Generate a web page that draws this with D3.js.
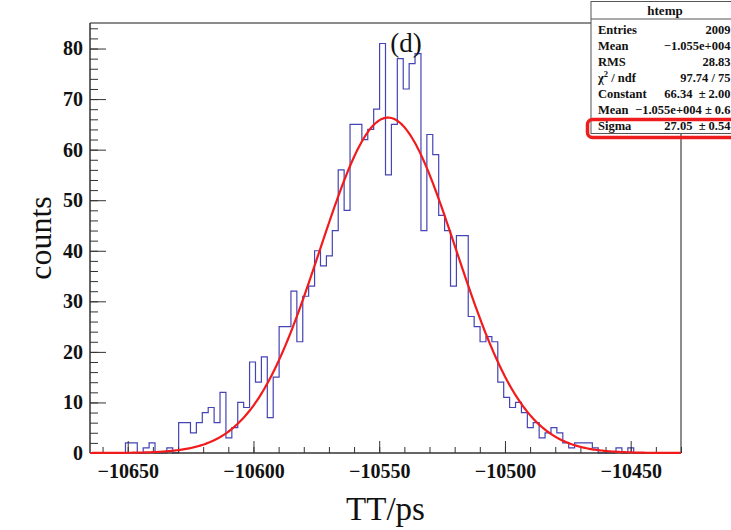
<!DOCTYPE html>
<html>
<head>
<meta charset="utf-8">
<script src="https://cdn.jsdelivr.net/npm/d3@7/dist/d3.min.js"></script>
<style>
  html, body { margin: 0; padding: 0; background: #fff; }
  svg { display: block; }
</style>
</head>
<body>
<svg id="chart" width="731" height="530"></svg>
<script>
// ---------------- data ----------------
const histRange = [-10665, -10430];   // histogram x range (100 bins)
const binCounts = [
  0,0,0,0,0,0,2,2,0,1,
  2,0,0,1,0,6,6,4,6,8,
  9,6,12,3,5,10,9,18,14,19,
  7,15,25,25,32,22,31,33,40,37,
  39,44,56,48,65,65,62,64,68,81,
  55,65,78,72,77,79,44,63,59,47,
  44,33,43,43,27,25,22,23,22,14,
  11,9,10,8,5,6,3,4,5,4,
  2,1,2,2,2,1,0,0,0,1,
  0,1,0,0,0,0,0,0,0,0
];
const fitConstant = 66.34;
const fitMean = -10546.5;
const fitSigma = 27.05;
const xMajorTicks = [-10650, -10600, -10550, -10500, -10450];
const xMinorTicks = d3.range(-10660, -10429, 10);
const yMajorTicks = [0, 10, 20, 30, 40, 50, 60, 70, 80];
const yMinorTicks = d3.range(0, 85, 2);
const yMax = 85.05;
const statsTitle = "htemp";
const statsNames = ["Entries", "Mean", "RMS", "χ² / ndf", "Constant", "Mean", "Sigma"];
const statsValues = ["2009", "−1.055e+004", "28.83", "97.74 / 75", "66.34  ± 2.00", "−1.055e+004 ± 0.6", "27.05  ± 0.54"];
const plotTitle = "(d)";
const xTitle = "TT/ps";
const yTitle = "counts";

// ---------------- layout ----------------
const svg = d3.select("#chart");
const L = 90, R = 681, T = 23, B = 453;
const serif = "'Liberation Serif', 'Times New Roman', 'DejaVu Serif', serif";

const x = d3.scaleLinear().domain(histRange).range([L, R]);
const y = d3.scaleLinear().domain([0, yMax]).range([B, T]);

const nBins = binCounts.length;
const bw = (histRange[1] - histRange[0]) / nBins;

// frame (top/right gray)
svg.append("line").attr("x1", L).attr("x2", R).attr("y1", T).attr("y2", T)
  .attr("stroke", "#8c8c8c").attr("stroke-width", 2);
svg.append("line").attr("x1", R).attr("x2", R).attr("y1", T).attr("y2", B)
  .attr("stroke", "#8c8c8c").attr("stroke-width", 2);

// histogram step path
const pts = [[histRange[0], 0]];
binCounts.forEach((c, i) => {
  const x0 = histRange[0] + i * bw, x1 = x0 + bw;
  pts.push([x0, c]); pts.push([x1, c]);
});
pts.push([histRange[1], 0]);
svg.append("path")
  .attr("d", d3.line().x(d => x(d[0])).y(d => y(d[1]))(pts))
  .attr("fill", "none").attr("stroke", "#4444b4").attr("stroke-width", 1.2);

// axes
const xAxisMinor = d3.axisBottom(x).tickValues(xMinorTicks).tickSize(-6).tickFormat("");
const xAxisMajor = d3.axisBottom(x).tickValues(xMajorTicks).tickSize(-12).tickPadding(11)
  .tickFormat(d3.format("d"));
const yAxisMinor = d3.axisLeft(y).tickValues(yMinorTicks).tickSize(-8).tickFormat("");
const yAxisMajor = d3.axisLeft(y).tickValues(yMajorTicks).tickSize(-16).tickPadding(7)
  .tickFormat(d3.format("d"));

function styleAxis(g) {
  g.select(".domain").remove();
  g.selectAll(".tick line").attr("stroke", "#333").attr("stroke-width", 1);
  g.selectAll(".tick text").attr("fill", "#111")
    .style("font-family", serif).style("font-size", "20px").style("font-weight", "bold");
}
svg.append("g").attr("transform", `translate(0,${B})`).call(xAxisMinor).call(styleAxis);
svg.append("g").attr("transform", `translate(0,${B})`).call(xAxisMajor).call(styleAxis);
svg.append("g").attr("transform", `translate(${L},0)`).call(yAxisMinor).call(styleAxis);
svg.append("g").attr("transform", `translate(${L},0)`).call(yAxisMajor).call(styleAxis);

// axis lines
svg.append("line").attr("x1", L).attr("x2", L).attr("y1", T).attr("y2", B)
  .attr("stroke", "#333").attr("stroke-width", 1.5);
svg.append("line").attr("x1", L).attr("x2", R).attr("y1", B).attr("y2", B)
  .attr("stroke", "#333").attr("stroke-width", 1.5);

// gaussian fit
const fitX = d3.range(0, 401).map(i => histRange[0] + i * (histRange[1] - histRange[0]) / 400);
const fitPts = fitX.map(v => [v, fitConstant * Math.exp(-0.5 * Math.pow((v - fitMean) / fitSigma, 2))]);
svg.append("path")
  .attr("d", d3.line().x(d => x(d[0])).y(d => y(d[1]))(fitPts))
  .attr("fill", "none").attr("stroke", "#f21b1b").attr("stroke-width", 2.2);

// titles
svg.append("text").attr("x", 406).attr("y", 52).attr("text-anchor", "middle")
  .style("font-family", serif).style("font-size", "27px").attr("fill", "#111").text(plotTitle);
svg.append("text").attr("x", (L + R) / 2).attr("y", 520).attr("text-anchor", "middle")
  .style("font-family", serif).style("font-size", "33px").attr("fill", "#111").text(xTitle);
svg.append("text").attr("transform", `translate(51,${(T + B) / 2}) rotate(-90)`)
  .attr("text-anchor", "middle")
  .style("font-family", serif).style("font-size", "32px").attr("fill", "#111").text(yTitle);

// stats box
const bx = 591, by = 1.5;
const sFont = "12.5px";
svg.append("rect").attr("x", bx).attr("y", by).attr("width", 160).attr("height", 132)
  .attr("fill", "#fff").attr("stroke", "#555").attr("stroke-width", 1);
svg.append("line").attr("x1", bx).attr("x2", 740).attr("y1", 19).attr("y2", 19)
  .attr("stroke", "#555").attr("stroke-width", 1);
svg.append("text").attr("x", 665).attr("y", 15).attr("text-anchor", "middle")
  .style("font-family", serif).style("font-size", "13px").style("font-weight", "bold")
  .attr("fill", "#111").text(statsTitle);
statsNames.forEach((n, i) => {
  const yy = 33.5 + i * 16;
  const t = svg.append("text").attr("x", 598).attr("y", yy)
    .style("font-family", serif).style("font-size", sFont).style("font-weight", "bold")
    .attr("fill", "#111");
  if (n.startsWith("χ²")) {
    t.append("tspan").text("χ");
    t.append("tspan").attr("dy", -5).style("font-size", "8.5px").text("2");
    t.append("tspan").attr("dy", 5).text(" / ndf");
  } else {
    t.text(n);
  }
  svg.append("text").attr("x", 730.5).attr("y", yy).attr("text-anchor", "end")
    .style("font-family", serif).style("font-size", sFont).style("font-weight", "bold")
    .style("white-space", "pre").attr("xml:space", "preserve")
    .attr("fill", "#111").text(statsValues[i]);
});
// red highlight
svg.append("rect").attr("x", 587.5).attr("y", 119.5).attr("width", 160).attr("height", 18)
  .attr("rx", 5).attr("ry", 5)
  .attr("fill", "none").attr("stroke", "#ee1c1c").attr("stroke-width", 3.5);
</script>
</body>
</html>
